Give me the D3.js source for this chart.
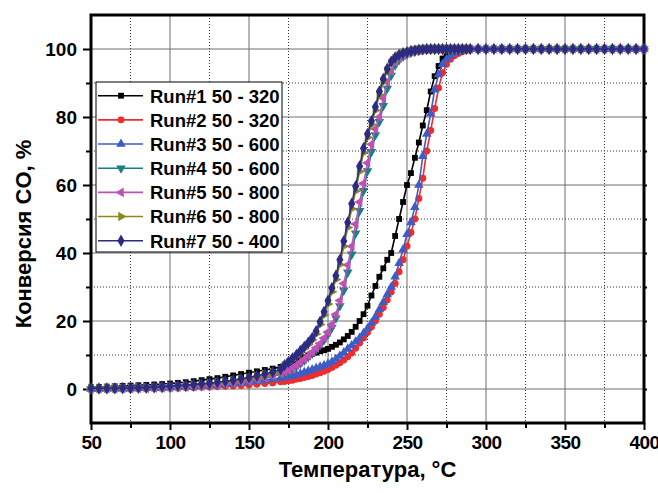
<!DOCTYPE html>
<html>
<head>
<meta charset="utf-8">
<script src="https://cdn.jsdelivr.net/npm/d3@7"></script>
<style>
  body { margin: 0; background: #fff; }
  text { font-family: "Liberation Sans", Arial, sans-serif; font-weight: bold; fill: #000; }
</style>
</head>
<body>
<script>
// temperature grid (°C) shared by all runs
var temps = [50,55,60,65,70,75,80,85,90,95,100,105,110,115,120,125,130,135,140,145,150,155,160,165,170,
  172.5,175,177.5,180,182.5,185,187.5,190,192.5,195,197.5,200,202.5,205,207.5,210,212.5,215,217.5,220,
  222.5,225,227.5,230,232.5,235,237.5,240,242.5,245,247.5,250,252.5,255,257.5,260,262.5,265,267.5,270,
  272.5,275,277.5,280,282.5,285,287.5,290,
  295,300,305,310,315,320,325,330,335,340,345,350,355,360,365,370,375,380,385,390,395,400];

// CO conversion, %
var run1 = [0.5,0.6,0.7,0.8,0.9,1.0,1.1,1.2,1.3,1.45,1.6,1.8,2.0,2.3,2.6,2.9,3.2,3.6,4.0,4.4,4.8,5.2,5.6,6.0,6.5,
  6.9,7.2,7.7,8.3,8.9,9.4,9.9,10.3,10.7,11.1,11.4,11.8,12.4,13.0,13.7,14.6,15.6,16.8,18.3,20.0,
  22.0,24.5,27.5,30.3,33.0,35.5,38.0,40.0,45.0,50.0,55.0,60.0,63.5,68.0,72.5,77.5,82.0,87.5,92.0,95.0,
  97.2,98.3,99.0,99.4,99.7,99.9,100,100,
  100,100,100,100,100,100,100,100,100,100,100,100,100,100,100,100,100,100,100,100,100,100];
var run2 = [0,0,0,0,0.1,0.1,0.1,0.1,0.2,0.2,0.3,0.3,0.4,0.4,0.5,0.6,0.7,0.8,0.9,1.0,1.2,1.4,1.6,1.8,2.1,
  2.2,2.4,2.6,2.9,3.1,3.4,3.7,4.0,4.4,4.8,5.2,5.7,6.3,7.0,7.7,8.5,9.5,10.6,12.0,13.5,
  15.0,16.6,18.2,20.0,22.0,24.0,26.2,28.5,31.0,34.5,38.0,42.0,46.0,50.0,56.0,62.0,70.0,76.0,82.5,88.5,
  93.0,95.5,97.0,98.0,98.7,99.2,99.6,99.9,
  100,100,100,100,100,100,100,100,100,100,100,100,100,100,100,100,100,100,100,100,100,100];
var run3 = [0,0,0.1,0.1,0.1,0.1,0.2,0.2,0.3,0.3,0.4,0.5,0.6,0.7,0.9,1.0,1.2,1.4,1.6,1.8,2.1,2.3,2.6,2.9,3.2,
  3.4,3.6,3.9,4.2,4.5,4.9,5.3,5.7,6.1,6.5,6.9,7.4,8.0,8.8,9.7,10.7,11.8,12.8,13.9,15.0,
  16.4,17.8,19.4,21.2,23.4,25.5,27.8,30.0,33.0,37.0,41.0,45.5,49.0,53.5,60.0,68.5,75.0,81.0,88.0,92.5,
  95.5,97.0,98.0,98.8,99.3,99.6,99.8,100,
  100,100,100,100,100,100,100,100,100,100,100,100,100,100,100,100,100,100,100,100,100,100];
var run4 = [0,0,0.1,0.1,0.1,0.1,0.2,0.2,0.3,0.3,0.4,0.5,0.6,0.7,0.9,1.0,1.2,1.4,1.6,2.0,2.3,2.7,3.2,3.7,4.4,
  4.8,5.3,6.0,6.7,7.5,8.4,9.4,10.4,11.6,12.9,14.4,16.1,18.1,20.8,24.4,29.0,34.3,39.6,45.8,52.4,
  58.3,64.1,69.8,74.7,78.6,83.3,88.4,92.2,95.2,96.8,97.8,98.5,99.0,99.3,99.6,99.8,99.9,100,100,100,
  100,100,100,100,100,100,100,100,
  100,100,100,100,100,100,100,100,100,100,100,100,100,100,100,100,100,100,100,100,100,100];
var run5 = [0,0,0.1,0.1,0.1,0.1,0.2,0.2,0.3,0.3,0.4,0.5,0.6,0.7,0.9,1.0,1.2,1.4,1.7,2.0,2.4,2.8,3.3,3.9,4.6,
  5.0,5.5,6.2,7.0,7.9,8.8,9.8,10.9,12.1,13.4,15.0,16.8,19.0,22.0,26.0,31.0,36.5,42.0,48.5,55.0,
  60.5,66.5,72.0,76.5,80.0,85.5,90.3,93.5,96.1,97.3,98.1,98.7,99.1,99.4,99.6,99.8,99.9,100,100,100,
  100,100,100,100,100,100,100,100,
  100,100,100,100,100,100,100,100,100,100,100,100,100,100,100,100,100,100,100,100,100,100];
var run6 = [0.2,0.2,0.2,0.2,0.3,0.3,0.4,0.4,0.5,0.6,0.7,0.9,1.0,1.2,1.4,1.6,1.9,2.2,2.5,2.9,3.3,3.8,4.3,4.9,5.6,
  6.8,7.7,8.6,9.6,10.7,11.9,13.1,14.4,16.2,19.0,21.8,25.0,28.6,32.2,36.6,42.0,47.5,53.0,58.2,64.0,
  69.5,74.0,77.8,82.0,86.5,90.3,93.5,95.8,97.2,98.1,98.7,99.0,99.3,99.6,99.8,99.9,100,100,100,100,
  100,100,100,100,100,100,100,100,
  100,100,100,100,100,100,100,100,100,100,100,100,100,100,100,100,100,100,100,100,100,100];
var run7 = [0.2,0.2,0.2,0.2,0.3,0.3,0.4,0.4,0.6,0.7,0.8,1.0,1.1,1.3,1.5,1.7,2.0,2.3,2.6,3.0,3.4,3.9,4.4,5.0,5.8,
  7.0,8.0,9.0,10.0,11.2,12.4,13.6,15.0,17.0,19.8,22.7,26.0,29.7,33.3,38.0,43.5,49.0,54.5,59.6,65.5,
  70.8,75.0,78.8,83.0,87.5,91.2,94.2,96.3,97.5,98.3,98.8,99.1,99.4,99.6,99.8,99.9,100,100,100,100,
  100,100,100,100,100,100,100,100,
  100,100,100,100,100,100,100,100,100,100,100,100,100,100,100,100,100,100,100,100,100,100];

var runNames = ['Run#1 50 - 320', 'Run#2 50 - 320', 'Run#3 50 - 600', 'Run#4 50 - 600',
  'Run#5 50 - 800', 'Run#6 50 - 800', 'Run#7 50 - 400'];
var runValues = [run1, run2, run3, run4, run5, run6, run7];

var xTicks = [50, 100, 150, 200, 250, 300, 350, 400];
var xMinor = [75, 125, 175, 225, 275, 325, 375];
var yTicks = [0, 20, 40, 60, 80, 100];
var yMinor = [10, 30, 50, 70, 90];

// marker styles, in run order
var styles = [
  { color: '#000000', symbol: d3.symbolSquare, rot: 0, size: 34 },
  { color: '#f22b2b', symbol: d3.symbolCircle, rot: 0, size: 38 },
  { color: '#3d5cc6', symbol: d3.symbolTriangle, rot: 0, size: 40 },
  { color: '#178080', symbol: d3.symbolTriangle, rot: 180, size: 40 },
  { color: '#c04fb6', symbol: d3.symbolTriangle, rot: -90, size: 40 },
  { color: '#8a8a1c', symbol: d3.symbolTriangle, rot: 90, size: 40 },
  { color: '#2b2b85', symbol: d3.symbolDiamond, rot: 0, size: 44 }
];

/**
 * setup svg
 */
var W = 658, H = 493;
var plot = { left: 91, right: 644, top: 15, bottom: 423 };

var svg = d3.select('body').append('svg')
  .attr('width', W)
  .attr('height', H);

var x = d3.scaleLinear().domain([50, 400]).range([plot.left, plot.right]);
var y = d3.scaleLinear().domain([-10, 110]).range([plot.bottom, plot.top]);

// grid
var grid = svg.append('g');
grid.selectAll('.vmaj').data(xTicks.slice(1, -1)).enter().append('line')
  .attr('x1', d => x(d)).attr('x2', d => x(d))
  .attr('y1', plot.top).attr('y2', plot.bottom)
  .attr('stroke', '#6e6e6e').attr('stroke-width', 1);
grid.selectAll('.hmaj').data(yTicks).enter().append('line')
  .attr('x1', plot.left).attr('x2', plot.right)
  .attr('y1', d => y(d)).attr('y2', d => y(d))
  .attr('stroke', '#6e6e6e').attr('stroke-width', 1);
grid.selectAll('.vmin').data(xMinor).enter().append('line')
  .attr('x1', d => x(d)).attr('x2', d => x(d))
  .attr('y1', plot.top).attr('y2', plot.bottom)
  .attr('stroke', '#333').attr('stroke-width', 1).attr('stroke-dasharray', '1,2');
grid.selectAll('.hmin').data(yMinor).enter().append('line')
  .attr('x1', plot.left).attr('x2', plot.right)
  .attr('y1', d => y(d)).attr('y2', d => y(d))
  .attr('stroke', '#333').attr('stroke-width', 1).attr('stroke-dasharray', '1,2');

// axes
function styleAxis(g) {
  g.select('.domain').remove();
  g.selectAll('.tick line').attr('stroke', '#000').attr('stroke-width', 2);
  g.selectAll('.tick text').style('font-size', '19px').style('font-weight', 'bold')
    .style('font-family', '"Liberation Sans", Arial, sans-serif').attr('fill', '#000');
}

var xAxisG = svg.append('g')
  .attr('transform', 'translate(0,' + plot.bottom + ')')
  .call(d3.axisBottom(x).tickValues(xTicks).tickSize(7).tickPadding(6))
  .call(styleAxis);
xAxisG.selectAll('.tick text').style('letter-spacing', '-0.6px');
svg.append('g')
  .attr('transform', 'translate(0,' + plot.bottom + ')')
  .call(d3.axisBottom(x).tickValues(xMinor).tickSize(5).tickFormat(''))
  .call(styleAxis);
svg.append('g')
  .attr('transform', 'translate(' + plot.left + ',0)')
  .call(d3.axisLeft(y).tickValues(yTicks).tickSize(8).tickPadding(6))
  .call(styleAxis);
svg.append('g')
  .attr('transform', 'translate(' + plot.left + ',0)')
  .call(d3.axisLeft(y).tickValues(yMinor).tickSize(5).tickFormat(''))
  .call(styleAxis);
svg.append('g')
  .attr('transform', 'translate(' + plot.right + ',0)')
  .call(d3.axisRight(y).tickValues(yTicks.concat(yMinor)).tickSize(3).tickFormat(''))
  .call(styleAxis);

// frame
svg.append('rect')
  .attr('x', plot.left).attr('y', plot.top)
  .attr('width', plot.right - plot.left).attr('height', plot.bottom - plot.top)
  .attr('fill', 'none').attr('stroke', '#000').attr('stroke-width', 3);

// curves
var line = d3.line()
  .x((d, i) => x(temps[i]))
  .y(d => y(d));

runValues.forEach(function(vals, k) {
  var st = styles[k];
  var g = svg.append('g');
  g.append('path')
    .attr('d', line(vals))
    .attr('fill', 'none')
    .attr('stroke', st.color)
    .attr('stroke-width', 1.6);
  var sym = d3.symbol().type(st.symbol).size(st.size);
  g.selectAll('path.m').data(vals).enter().append('path')
    .attr('class', 'm')
    .attr('d', sym)
    .attr('transform', (d, i) => 'translate(' + x(temps[i]) + ',' + y(d) + ') rotate(' + st.rot + ')')
    .attr('fill', st.color);
});

// legend
var leg = svg.append('g');
leg.append('rect')
  .attr('x', 96).attr('y', 82).attr('width', 186).attr('height', 170)
  .attr('fill', '#fff').attr('stroke', '#000').attr('stroke-width', 1);
var rows = leg.selectAll('g.row').data(runNames).enter().append('g')
  .attr('class', 'row')
  .attr('transform', (d, i) => 'translate(0,' + (95.7 + i * 24.17) + ')');
rows.append('line')
  .attr('x1', 98).attr('x2', 143)
  .attr('stroke', (d, i) => styles[i].color)
  .attr('stroke-width', 1.6);
rows.append('path')
  .attr('d', (d, i) => d3.symbol().type(styles[i].symbol).size(styles[i].size)())
  .attr('transform', (d, i) => 'translate(121,0) rotate(' + styles[i].rot + ')')
  .attr('fill', (d, i) => styles[i].color);
rows.append('text')
  .attr('x', 150).attr('y', 6.8)
  .style('font-size', '18.5px')
  .text(d => d);

// axis titles
svg.append('text')
  .attr('x', (plot.left + plot.right) / 2).attr('y', 477)
  .attr('text-anchor', 'middle')
  .style('font-size', '22px')
  .text('Температура, °C');
svg.append('text')
  .attr('transform', 'translate(31,234) rotate(-90)')
  .attr('text-anchor', 'middle')
  .style('font-size', '22px')
  .text('Конверсия CO, %');
</script>
</body>
</html>
